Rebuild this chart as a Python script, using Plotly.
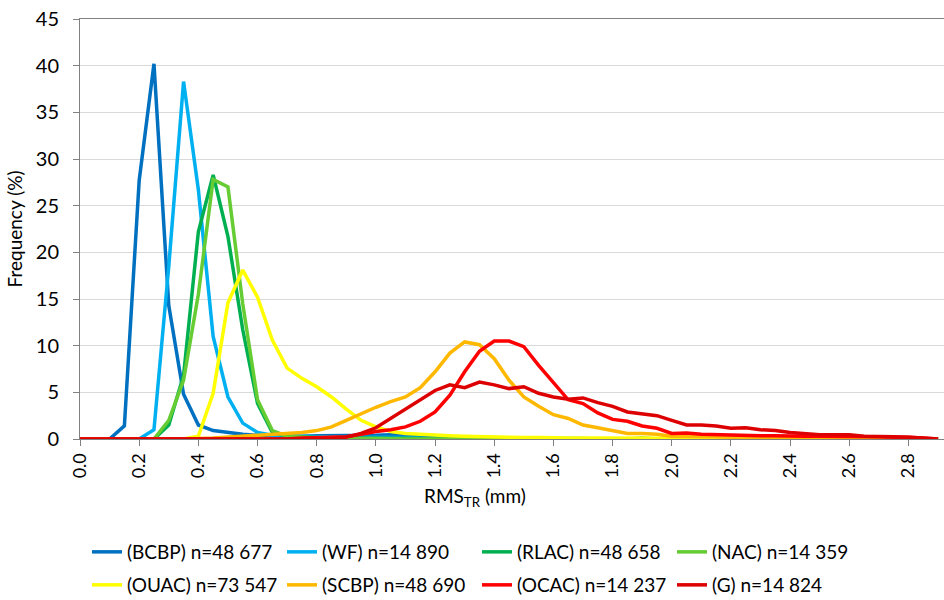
import plotly.graph_objects as go

x_cat = [0.0, 0.05, 0.1, 0.15, 0.2, 0.25, 0.3, 0.35, 0.4, 0.45, 0.5, 0.55, 0.6, 0.65, 0.7,
         0.75, 0.8, 0.85, 0.9, 0.95, 1.0, 1.05, 1.1, 1.15, 1.2, 1.25, 1.3, 1.35, 1.4, 1.45,
         1.5, 1.55, 1.6, 1.65, 1.7, 1.75, 1.8, 1.85, 1.9, 1.95, 2.0, 2.05, 2.1, 2.15, 2.2,
         2.25, 2.3, 2.35, 2.4, 2.45, 2.5, 2.55, 2.6, 2.65, 2.7, 2.75, 2.8, 2.85, 2.9]

bcbp = [0, 0, 0, 1.4, 27.7, 40.2, 14.3, 4.8, 1.5, 0.9, 0.7, 0.5, 0.4, 0.35, 0.3,
        0.3, 0.35, 0.35, 0.35, 0.35, 0.4, 0.45, 0.45, 0.3, 0.2, 0.15, 0.1, 0.1, 0.1, 0.1,
        0.15, 0.1, 0.05, 0.05, 0.05, 0.05, 0.05, 0.05, 0.05, 0, 0, 0, 0, 0, 0,
        0, 0, 0, 0, 0, 0, 0, 0, 0, 0, 0, 0, 0, 0]
wf = [0, 0, 0, 0, 0, 1.0, 18.5, 38.3, 26.7, 11.0, 4.5, 1.7, 0.7, 0.4, 0.3,
      0.3, 0.25, 0.2, 0.2, 0.2, 0.2, 0.2, 0.15, 0.1, 0.1, 0.1, 0.05, 0.05, 0.05, 0.05,
      0.05, 0.05, 0.05, 0.05, 0.05, 0, 0, 0, 0, 0, 0, 0, 0, 0, 0,
      0, 0, 0, 0, 0, 0, 0, 0, 0, 0, 0, 0, 0, 0]
rlac = [0, 0, 0, 0, 0, 0, 1.5, 6.8, 22.2, 28.3, 21.7, 11.7, 3.8, 0.7, 0.3,
        0.2, 0.15, 0.1, 0.1, 0.1, 0.05, 0.05, 0.05, 0.05, 0.05, 0, 0, 0, 0, 0,
        0, 0, 0, 0, 0, 0, 0, 0, 0.05, 0, 0, 0, 0, 0, 0,
        0, 0, 0, 0, 0, 0, 0, 0, 0, 0, 0, 0, 0, 0]
nac = [0, 0, 0, 0, 0, 0, 2.0, 6.3, 15.5, 27.8, 27.0, 14.5, 4.2, 0.9, 0.3,
       0.2, 0.1, 0.1, 0.05, 0.05, 0.05, 0, 0, 0, 0, 0, 0, 0, 0, 0,
       0, 0, 0, 0, 0, 0, 0, 0, 0.1, 0, 0, 0, 0, 0, 0,
       0, 0, 0, 0, 0, 0, 0, 0, 0, 0, 0, 0, 0, 0]
ouac = [0, 0, 0, 0, 0, 0, 0, 0, 0.3, 4.9, 14.6, 18.1, 15.2, 10.6, 7.6,
        6.5, 5.6, 4.5, 3.2, 2.0, 1.3, 0.8, 0.6, 0.5, 0.4, 0.35, 0.3, 0.25, 0.2, 0.2,
        0.15, 0.15, 0.1, 0.1, 0.1, 0.1, 0.1, 0.1, 0.1, 0.1, 0.1, 0.1, 0.1, 0.1, 0.1,
        0.05, 0.05, 0.05, 0.05, 0.05, 0.05, 0, 0, 0, 0, 0, 0, 0, 0]
scbp = [0, 0, 0, 0, 0, 0, 0, 0, 0.05, 0.1, 0.2, 0.3, 0.4, 0.5, 0.6,
        0.7, 0.9, 1.3, 2.0, 2.75, 3.4, 4.0, 4.5, 5.5, 7.2, 9.2, 10.4, 10.1, 8.6, 6.3,
        4.5, 3.5, 2.6, 2.2, 1.5, 1.2, 0.9, 0.6, 0.6, 0.5, 0.3, 0.3, 0.3, 0.25, 0.2,
        0.2, 0.2, 0.15, 0.1, 0.1, 0.1, 0.1, 0.05, 0.05, 0.05, 0.05, 0, 0, 0]
ocac = [0, 0, 0, 0, 0, 0, 0, 0, 0, 0, 0, 0, 0, 0, 0,
        0.1, 0.15, 0.2, 0.25, 0.5, 0.8, 1.0, 1.3, 1.9, 2.9, 4.7, 7.2, 9.4, 10.5, 10.5,
        9.9, 7.9, 6.0, 4.2, 3.8, 2.8, 2.1, 1.9, 1.4, 1.15, 0.6, 0.65, 0.5, 0.45, 0.4,
        0.4, 0.35, 0.35, 0.3, 0.3, 0.3, 0.3, 0.3, 0.25, 0.25, 0.2, 0.2, 0.1, 0]
g = [0, 0, 0, 0, 0, 0, 0, 0, 0, 0, 0, 0, 0, 0, 0,
     0, 0, 0, 0.2, 0.6, 1.2, 2.2, 3.3, 4.2, 5.2, 5.8, 5.5, 6.1, 5.8, 5.4,
     5.6, 4.9, 4.5, 4.25, 4.4, 3.9, 3.5, 2.9, 2.7, 2.5, 2.0, 1.5, 1.5, 1.4, 1.15,
     1.2, 1.0, 0.9, 0.7, 0.55, 0.45, 0.45, 0.45, 0.3, 0.3, 0.25, 0.2, 0.1, 0]

names = ["(BCBP) n=48 677", "(WF) n=14 890", "(RLAC) n=48 658", "(NAC) n=14 359",
         "(OUAC) n=73 547", "(SCBP) n=48 690", "(OCAC) n=14 237", "(G) n=14 824"]
series = [bcbp, wf, rlac, nac, ouac, scbp, ocac, g]
colors = ["#0070C0", "#00B0F0", "#00B050", "#66CC33",
          "#FFFF00", "#FFB800", "#FF0000", "#DD0000"]

x_ticks = [0.0, 0.2, 0.4, 0.6, 0.8, 1.0, 1.2, 1.4, 1.6, 1.8, 2.0, 2.2, 2.4, 2.6, 2.8]
x_ticktext = ["%.1f" % v for v in x_ticks]
y_ticks = [0, 5, 10, 15, 20, 25, 30, 35, 40, 45]

FONT = "Lato"

fig = go.Figure()
for i, (nm, ys, c) in enumerate(zip(names, series, colors)):
    fig.add_trace(go.Scatter(
        x=x_cat, y=ys, mode="lines", name=nm,
        line=dict(color=c, width=3.5),
        legend="legend" if i < 4 else "legend2",
    ))

leg_common = dict(orientation="h", xanchor="left", yanchor="middle",
                  xref="container", yref="container",
                  entrywidth=150, entrywidthmode="pixels", itemwidth=30,
                  font=dict(family=FONT, size=19), bgcolor="rgba(0,0,0,0)",
                  borderwidth=0)

fig.update_layout(
    width=944, height=600,
    margin=dict(l=80, r=0, t=19, b=161, autoexpand=False),
    plot_bgcolor="white", paper_bgcolor="white",
    font=dict(family=FONT, size=17, color="#000000"),
    showlegend=True,
    legend=dict(x=87 / 944, y=1 - 552 / 600, **leg_common),
    legend2=dict(x=87 / 944, y=1 - 585 / 600, **leg_common),
    xaxis=dict(
        range=[0, 2.92], tickmode="array", tickvals=x_ticks, ticktext=x_ticktext,
        tickangle=-90, ticks="outside", ticklen=6, tickcolor="#808080",
        showline=True, linecolor="#808080", linewidth=1, mirror=True,
        showgrid=False, zeroline=False,
        tickfont=dict(family=FONT, size=18),
    ),
    yaxis=dict(
        range=[0, 45], tickmode="array", tickvals=y_ticks,
        ticks="outside", ticklen=6, tickcolor="#808080",
        showline=True, linecolor="#808080", linewidth=1,
        showgrid=True, gridcolor="#D9D9D9", gridwidth=1, zeroline=False,
        tickfont=dict(family=FONT, size=20), ticklabelstandoff=10,
        title=dict(text="Frequency (%)", font=dict(family=FONT, size=19), standoff=8),
    ),
    annotations=[dict(
        text="RMS<sub>TR</sub> (mm)", x=(475 - 80) / 864, y=(439 - 497) / 420,
        xref="paper", yref="paper", xanchor="center", yanchor="middle",
        showarrow=False, font=dict(family=FONT, size=19),
    )],
)

fig.write_html("out.html")
